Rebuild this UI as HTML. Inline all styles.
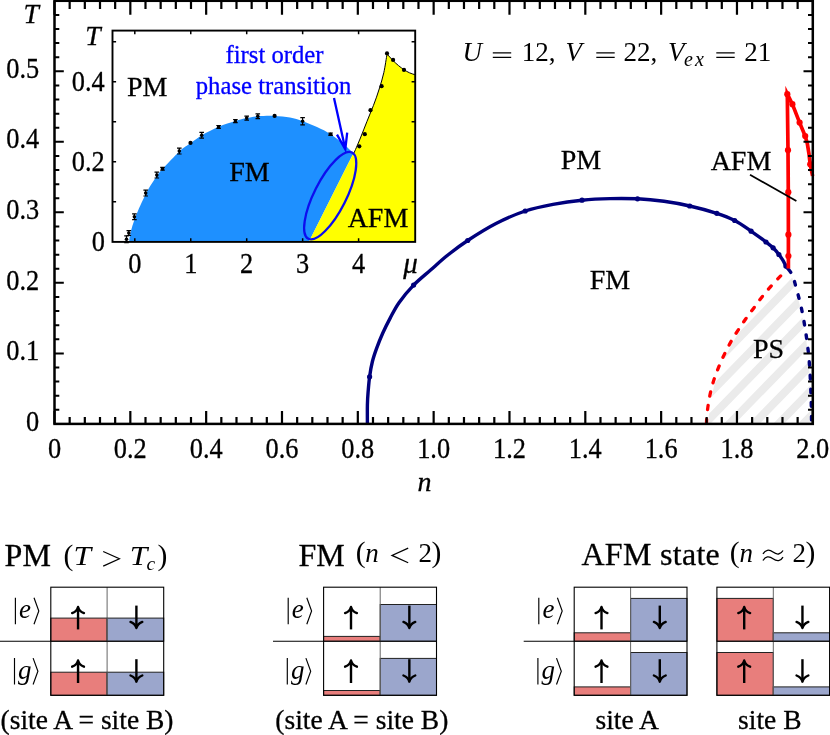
<!DOCTYPE html>
<html><head><meta charset="utf-8"><title>Phase diagram</title>
<style>
html,body{margin:0;padding:0;background:#fff;}
body{width:830px;height:735px;overflow:hidden;}
svg{display:block;will-change:transform;}
text{font-family:"Liberation Serif",serif;fill:#000;stroke:#000;stroke-width:0.3px;}
.it{font-style:italic;}
.m{stroke:none;}
</style></head><body>
<svg width="830" height="735" viewBox="0 0 830 735">
<rect x="0" y="0" width="830" height="735" fill="#fff"/>
<defs><clipPath id="psclip"><path d="M708.3,424.7 C708.3,423.6 708.3,421.2 708.6,417.8 C708.9,414.4 709.5,408.7 710.2,404.3 C710.9,399.9 711.8,395.5 712.8,391.2 C713.8,386.9 715.0,382.8 716.4,378.6 C717.8,374.4 719.6,370.1 721.3,366.0 C723.0,361.9 724.7,358.1 726.7,354.1 C728.7,350.1 730.9,345.7 733.1,341.8 C735.3,337.9 737.6,334.4 740.1,330.7 C742.5,326.9 745.3,322.9 747.8,319.3 C750.3,315.7 752.7,312.7 755.3,309.2 C757.9,305.7 760.4,302.0 763.2,298.5 C765.9,295.0 768.8,291.5 771.8,288.1 C774.8,284.7 778.2,280.9 781.0,278.1 C783.8,275.3 787.1,272.4 788.3,271.3 L787.1,269.9 C787.7,270.8 789.7,272.5 790.9,275.0 C792.1,277.5 792.8,278.8 794.5,284.9 C796.2,291.0 799.4,302.6 801.3,311.5 C803.2,320.4 804.6,329.4 805.9,338.3 C807.2,347.2 808.1,355.3 808.9,365.0 C809.7,374.7 810.1,386.5 810.5,396.5 C810.9,406.5 811.0,420.2 811.1,425.0 L811.6,423.9 Z"/></clipPath></defs>
<path d="M566.0,440 L750.8,250 M590.6,440 L775.4,250 M615.2,440 L800.0,250 M639.8,440 L824.6,250 M664.4,440 L849.2,250 M689.0,440 L873.8,250 M713.6,440 L898.4,250 M738.2,440 L923.0,250 M762.8,440 L947.6,250 M787.4,440 L972.2,250 M812.0,440 L996.8,250" stroke="#ebebeb" stroke-width="7.9" fill="none" clip-path="url(#psclip)"/>
<path d="M367.4,423.9 C367.4,420.8 367.3,410.3 367.4,405.0 C367.5,399.7 367.7,396.7 368.1,392.0 C368.5,387.3 368.9,381.9 369.6,376.8 C370.3,371.7 371.2,366.2 372.4,361.5 C373.6,356.8 374.9,353.1 376.6,348.4 C378.3,343.7 380.4,338.3 382.7,333.2 C385.0,328.1 387.6,323.0 390.3,317.9 C393.0,312.8 395.1,308.2 399.0,302.7 C402.9,297.2 408.3,290.6 413.6,285.1 C418.9,279.7 424.8,275.1 430.6,270.0 C436.4,264.9 442.3,259.4 448.5,254.5 C454.7,249.6 459.8,245.7 467.7,240.5 C475.6,235.3 486.4,228.4 496.0,223.5 C505.6,218.6 515.7,214.2 525.2,211.0 C534.7,207.8 543.5,206.1 553.0,204.3 C562.5,202.5 572.5,201.1 582.0,200.2 C591.5,199.2 600.8,198.8 610.0,198.6 C619.2,198.4 628.5,198.4 637.5,198.8 C646.5,199.2 655.3,200.1 664.0,201.3 C672.7,202.5 680.9,204.0 689.7,206.0 C698.5,208.0 709.3,210.9 716.8,213.3 C724.3,215.7 729.0,217.5 734.7,220.5 C740.5,223.5 746.1,227.7 751.3,231.3 C756.5,234.9 762.4,239.2 766.0,242.0 C769.6,244.8 771.0,245.7 773.1,247.8 C775.2,249.9 777.3,252.4 778.9,254.5 C780.5,256.6 781.6,258.3 782.8,260.2 C784.0,262.1 785.1,264.7 785.9,266.1 C786.7,267.5 787.5,268.4 787.8,268.8" fill="none" stroke="#00007d" stroke-width="3.4" stroke-linejoin="round"/>
<circle cx="369.6" cy="376.8" r="2.6" fill="#00007d"/>
<circle cx="413.6" cy="285.1" r="2.6" fill="#00007d"/>
<circle cx="467.7" cy="240.5" r="2.6" fill="#00007d"/>
<circle cx="525.2" cy="211.0" r="2.6" fill="#00007d"/>
<circle cx="582" cy="200.2" r="2.6" fill="#00007d"/>
<circle cx="637.5" cy="198.8" r="2.6" fill="#00007d"/>
<circle cx="689.7" cy="206.0" r="2.6" fill="#00007d"/>
<circle cx="716.8" cy="213.3" r="2.6" fill="#00007d"/>
<circle cx="734.7" cy="220.5" r="2.6" fill="#00007d"/>
<circle cx="751.1" cy="231.2" r="2.6" fill="#00007d"/>
<circle cx="766" cy="242" r="2.6" fill="#00007d"/>
<circle cx="773.1" cy="247.8" r="2.6" fill="#00007d"/>
<circle cx="778.9" cy="254.5" r="2.6" fill="#00007d"/>
<circle cx="785.9" cy="266.1" r="2.6" fill="#00007d"/>
<path d="M786.5,270.5 C785.3,271.6 782.0,274.5 779.2,277.3 C776.5,280.1 773.0,283.9 770.0,287.3 C767.0,290.7 764.1,294.2 761.4,297.7 C758.6,301.2 756.1,304.9 753.5,308.4 C750.9,311.9 748.5,314.9 746.0,318.5 C743.5,322.1 740.8,326.1 738.3,329.9 C735.8,333.6 733.5,337.1 731.3,341.0 C729.1,344.9 726.9,349.3 724.9,353.3 C722.9,357.3 721.2,361.1 719.5,365.2 C717.8,369.3 716.0,373.6 714.6,377.8 C713.2,382.0 712.0,386.1 711.0,390.4 C710.0,394.7 709.1,399.1 708.4,403.5 C707.7,407.9 707.1,413.6 706.8,417.0 C706.5,420.4 706.5,422.8 706.5,423.9" fill="none" stroke="#ff0000" stroke-width="3.3" stroke-dasharray="4.2,9.5" stroke-dashoffset="-8" stroke-linecap="round"/>
<path d="M787.6,268.4 C788.2,269.2 790.2,271.0 791.4,273.5 C792.6,276.0 793.3,277.3 795.0,283.4 C796.7,289.5 799.9,301.1 801.8,310.0 C803.7,318.9 805.1,327.9 806.4,336.8 C807.7,345.7 808.6,353.8 809.4,363.5 C810.2,373.2 810.6,385.0 811.0,395.0 C811.4,405.0 811.5,418.8 811.6,423.5" fill="none" stroke="#00007d" stroke-width="3.4" stroke-dasharray="3.6,10" stroke-dashoffset="-1.6" stroke-linecap="round"/>
<path d="M788.4,268.5 L788.4,234.7 L788.3,192.2 L788.0,150.2 L787.3,93.9 L792.4,104.2 L799.6,122.6 L805.2,136 L807.3,143.5 L809.0,154 L810.2,164.3 L811.9,172.6 L812.6,176" fill="none" stroke="#ff0000" stroke-width="3.7" stroke-linejoin="miter" stroke-miterlimit="12"/>
<circle cx="788.4" cy="234.7" r="3.1" fill="#ff0000"/>
<circle cx="788.4" cy="256" r="3.1" fill="#ff0000"/>
<circle cx="788.3" cy="192.2" r="3.1" fill="#ff0000"/>
<circle cx="788.0" cy="150.2" r="3.1" fill="#ff0000"/>
<circle cx="787.3" cy="94.2" r="3.1" fill="#ff0000"/>
<circle cx="792.4" cy="104.2" r="3.1" fill="#ff0000"/>
<circle cx="799.6" cy="122.6" r="3.1" fill="#ff0000"/>
<circle cx="805.2" cy="136" r="3.1" fill="#ff0000"/>
<circle cx="810.2" cy="164.3" r="3.1" fill="#ff0000"/>
<rect x="54.5" y="0.8" width="758.3" height="423.09999999999997" fill="none" stroke="#000" stroke-width="2.5"/>
<path d="M54.50,423.9 v-12.8 M54.50,0.8 v13.9 M69.67,423.9 v-7.0 M69.67,0.8 v8.1 M84.83,423.9 v-7.0 M84.83,0.8 v8.1 M100.00,423.9 v-7.0 M100.00,0.8 v8.1 M115.16,423.9 v-7.0 M115.16,0.8 v8.1 M130.33,423.9 v-12.8 M130.33,0.8 v13.9 M145.50,423.9 v-7.0 M145.50,0.8 v8.1 M160.66,423.9 v-7.0 M160.66,0.8 v8.1 M175.83,423.9 v-7.0 M175.83,0.8 v8.1 M190.99,423.9 v-7.0 M190.99,0.8 v8.1 M206.16,423.9 v-12.8 M206.16,0.8 v13.9 M221.33,423.9 v-7.0 M221.33,0.8 v8.1 M236.49,423.9 v-7.0 M236.49,0.8 v8.1 M251.66,423.9 v-7.0 M251.66,0.8 v8.1 M266.82,423.9 v-7.0 M266.82,0.8 v8.1 M281.99,423.9 v-12.8 M281.99,0.8 v13.9 M297.16,423.9 v-7.0 M297.16,0.8 v8.1 M312.32,423.9 v-7.0 M312.32,0.8 v8.1 M327.49,423.9 v-7.0 M327.49,0.8 v8.1 M342.65,423.9 v-7.0 M342.65,0.8 v8.1 M357.82,423.9 v-12.8 M357.82,0.8 v13.9 M372.99,423.9 v-7.0 M372.99,0.8 v8.1 M388.15,423.9 v-7.0 M388.15,0.8 v8.1 M403.32,423.9 v-7.0 M403.32,0.8 v8.1 M418.48,423.9 v-7.0 M418.48,0.8 v8.1 M433.65,423.9 v-12.8 M433.65,0.8 v13.9 M448.82,423.9 v-7.0 M448.82,0.8 v8.1 M463.98,423.9 v-7.0 M463.98,0.8 v8.1 M479.15,423.9 v-7.0 M479.15,0.8 v8.1 M494.31,423.9 v-7.0 M494.31,0.8 v8.1 M509.48,423.9 v-12.8 M509.48,0.8 v13.9 M524.65,423.9 v-7.0 M524.65,0.8 v8.1 M539.81,423.9 v-7.0 M539.81,0.8 v8.1 M554.98,423.9 v-7.0 M554.98,0.8 v8.1 M570.14,423.9 v-7.0 M570.14,0.8 v8.1 M585.31,423.9 v-12.8 M585.31,0.8 v13.9 M600.48,423.9 v-7.0 M600.48,0.8 v8.1 M615.64,423.9 v-7.0 M615.64,0.8 v8.1 M630.81,423.9 v-7.0 M630.81,0.8 v8.1 M645.97,423.9 v-7.0 M645.97,0.8 v8.1 M661.14,423.9 v-12.8 M661.14,0.8 v13.9 M676.31,423.9 v-7.0 M676.31,0.8 v8.1 M691.47,423.9 v-7.0 M691.47,0.8 v8.1 M706.64,423.9 v-7.0 M706.64,0.8 v8.1 M721.80,423.9 v-7.0 M721.80,0.8 v8.1 M736.97,423.9 v-12.8 M736.97,0.8 v13.9 M752.14,423.9 v-7.0 M752.14,0.8 v8.1 M767.30,423.9 v-7.0 M767.30,0.8 v8.1 M782.47,423.9 v-7.0 M782.47,0.8 v8.1 M797.63,423.9 v-7.0 M797.63,0.8 v8.1 M812.80,423.9 v-12.8 M812.80,0.8 v13.9" stroke="#000" stroke-width="2.2" fill="none"/>
<path d="M54.5,423.90 h9.3 M812.8,423.90 h-9.3 M54.5,409.80 h4.8 M812.8,409.80 h-4.8 M54.5,395.69 h4.8 M812.8,395.69 h-4.8 M54.5,381.59 h4.8 M812.8,381.59 h-4.8 M54.5,367.49 h4.8 M812.8,367.49 h-4.8 M54.5,353.38 h9.3 M812.8,353.38 h-9.3 M54.5,339.28 h4.8 M812.8,339.28 h-4.8 M54.5,325.18 h4.8 M812.8,325.18 h-4.8 M54.5,311.07 h4.8 M812.8,311.07 h-4.8 M54.5,296.97 h4.8 M812.8,296.97 h-4.8 M54.5,282.87 h9.3 M812.8,282.87 h-9.3 M54.5,268.76 h4.8 M812.8,268.76 h-4.8 M54.5,254.66 h4.8 M812.8,254.66 h-4.8 M54.5,240.56 h4.8 M812.8,240.56 h-4.8 M54.5,226.45 h4.8 M812.8,226.45 h-4.8 M54.5,212.35 h9.3 M812.8,212.35 h-9.3 M54.5,198.25 h4.8 M812.8,198.25 h-4.8 M54.5,184.14 h4.8 M812.8,184.14 h-4.8 M54.5,170.04 h4.8 M812.8,170.04 h-4.8 M54.5,155.94 h4.8 M812.8,155.94 h-4.8 M54.5,141.83 h9.3 M812.8,141.83 h-9.3 M54.5,127.73 h4.8 M812.8,127.73 h-4.8 M54.5,113.63 h4.8 M812.8,113.63 h-4.8 M54.5,99.52 h4.8 M812.8,99.52 h-4.8 M54.5,85.42 h4.8 M812.8,85.42 h-4.8 M54.5,71.32 h9.3 M812.8,71.32 h-9.3 M54.5,57.21 h4.8 M812.8,57.21 h-4.8 M54.5,43.11 h4.8 M812.8,43.11 h-4.8 M54.5,29.01 h4.8 M812.8,29.01 h-4.8 M54.5,14.90 h4.8 M812.8,14.90 h-4.8 M54.5,0.80 h9.3 M812.8,0.80 h-9.3" stroke="#000" stroke-width="2" fill="none"/>
<text transform="translate(54.5,457.6) scale(0.915,1)" font-size="28.8" text-anchor="middle">0</text>
<text transform="translate(130.3,457.6) scale(0.915,1)" font-size="28.8" text-anchor="middle">0.2</text>
<text transform="translate(206.2,457.6) scale(0.915,1)" font-size="28.8" text-anchor="middle">0.4</text>
<text transform="translate(282.0,457.6) scale(0.915,1)" font-size="28.8" text-anchor="middle">0.6</text>
<text transform="translate(357.8,457.6) scale(0.915,1)" font-size="28.8" text-anchor="middle">0.8</text>
<text transform="translate(433.6,457.6) scale(0.915,1)" font-size="28.8" text-anchor="middle">1.0</text>
<text transform="translate(509.5,457.6) scale(0.915,1)" font-size="28.8" text-anchor="middle">1.2</text>
<text transform="translate(585.3,457.6) scale(0.915,1)" font-size="28.8" text-anchor="middle">1.4</text>
<text transform="translate(661.1,457.6) scale(0.915,1)" font-size="28.8" text-anchor="middle">1.6</text>
<text transform="translate(737.0,457.6) scale(0.915,1)" font-size="28.8" text-anchor="middle">1.8</text>
<text transform="translate(812.8,457.6) scale(0.915,1)" font-size="28.8" text-anchor="middle">2.0</text>
<text transform="translate(39.2,430.5) scale(0.915,1)" font-size="28.8" text-anchor="end">0</text>
<text transform="translate(39.2,360.0) scale(0.915,1)" font-size="28.8" text-anchor="end">0.1</text>
<text transform="translate(39.2,289.5) scale(0.915,1)" font-size="28.8" text-anchor="end">0.2</text>
<text transform="translate(39.2,218.9) scale(0.915,1)" font-size="28.8" text-anchor="end">0.3</text>
<text transform="translate(39.2,148.4) scale(0.915,1)" font-size="28.8" text-anchor="end">0.4</text>
<text transform="translate(39.2,77.9) scale(0.915,1)" font-size="28.8" text-anchor="end">0.5</text>
<text x="23.6" y="22.6" font-size="27.6" class="it">T</text>
<text x="424.5" y="491" font-size="28.0" class="it" text-anchor="middle">n</text>
<text x="581" y="168.5" font-size="28.0" text-anchor="middle">PM</text>
<text x="610" y="289.2" font-size="28.0" text-anchor="middle">FM</text>
<text x="768.5" y="358" font-size="28.0" text-anchor="middle">PS</text>
<text x="741" y="170" font-size="28.0" text-anchor="middle">AFM</text>
<path d="M750,174.8 L796.4,200.9" stroke="#000" stroke-width="1.7" fill="none"/>
<text y="61.2" font-size="27" class="m"><tspan x="462.5" class="it">U</tspan><tspan x="521.8">12,</tspan><tspan x="565.5" class="it">V</tspan><tspan x="623.6">22,</tspan><tspan x="668" class="it">V</tspan><tspan x="684" dy="5.2" font-size="20" class="it" letter-spacing="2">ex</tspan><tspan x="744.3" dy="-5.2">21</tspan></text>
<path d="M492.8,52.75 H511.2 M492.8,57.45 H511.2" stroke="#000" stroke-width="1.25" fill="none"/>
<path d="M596.3,52.75 H614.7 M596.3,57.45 H614.7" stroke="#000" stroke-width="1.25" fill="none"/>
<path d="M716.3,52.75 H734.7 M716.3,57.45 H734.7" stroke="#000" stroke-width="1.25" fill="none"/>
<rect x="112.5" y="30.6" width="302.7" height="211.3" fill="#fff"/>
<path d="M129.2,241.9 C129.4,240.4 129.4,237.0 130.5,232.8 C131.6,228.6 132.9,223.5 135.5,216.9 C138.1,210.3 142.6,200.1 146.2,193.2 C149.8,186.3 154.5,179.4 157.3,175.3 C160.1,171.2 159.3,172.4 163.0,168.4 C166.7,164.4 174.9,155.6 179.5,151.4 C184.1,147.2 187.1,145.8 190.8,143.1 C194.5,140.4 197.3,138.0 201.9,135.3 C206.5,132.6 213.0,129.2 218.6,126.8 C224.2,124.4 230.7,122.5 235.4,121.1 C240.1,119.6 243.0,118.9 246.7,118.1 C250.4,117.3 253.2,116.7 257.8,116.3 C262.5,115.9 269.2,115.7 274.6,115.9 C280.0,116.1 285.3,116.7 290.0,117.6 C294.7,118.5 298.1,119.6 302.6,121.2 C307.1,122.8 312.3,124.8 317.0,127.0 C321.7,129.2 326.3,131.4 330.6,134.2 C334.9,136.9 339.2,140.3 343.0,143.5 C346.8,146.7 351.7,151.7 353.4,153.3 L308.8,241.9 Z" fill="#1e90ff"/>
<path d="M353.4,153.3 C353.6,153.1 353.2,154.6 354.4,152.0 C355.6,149.4 358.3,143.1 360.4,138.0 C362.5,132.9 364.7,127.0 366.9,121.6 C369.1,116.1 371.4,110.7 373.5,105.3 C375.6,99.9 377.5,94.4 379.2,89.0 C380.9,83.6 382.5,78.5 383.8,72.7 C385.1,66.9 386.5,57.0 387.0,53.9 C388.0,55.0 391.2,58.7 393.1,60.6 C395.0,62.5 396.7,64.1 398.5,65.6 C400.3,67.1 402.2,68.5 404.0,69.7 C405.8,70.9 407.6,72.0 409.5,72.8 C411.4,73.6 414.2,74.5 415.2,74.8 L415.2,241.9 L308.8,241.9 Z" fill="#ffff00"/>
<path d="M353.4,153.3 C353.6,153.1 353.2,154.6 354.4,152.0 C355.6,149.4 358.3,143.1 360.4,138.0 C362.5,132.9 364.7,127.0 366.9,121.6 C369.1,116.1 371.4,110.7 373.5,105.3 C375.6,99.9 377.5,94.4 379.2,89.0 C380.9,83.6 382.5,78.5 383.8,72.7 C385.1,66.9 386.5,57.0 387.0,53.9 C388.0,55.0 391.2,58.7 393.1,60.6 C395.0,62.5 396.7,64.1 398.5,65.6 C400.3,67.1 402.2,68.5 404.0,69.7 C405.8,70.9 407.6,72.0 409.5,72.8 C411.4,73.6 414.2,74.5 415.2,74.8" fill="none" stroke="#000" stroke-width="1"/>
<circle cx="359.3" cy="146.3" r="2.1" fill="#000"/>
<circle cx="364.8" cy="134.2" r="2.1" fill="#000"/>
<circle cx="370.5" cy="110.2" r="2.1" fill="#000"/>
<circle cx="381.6" cy="86.2" r="2.1" fill="#000"/>
<circle cx="387" cy="53.4" r="2.1" fill="#000"/>
<circle cx="393.1" cy="59.9" r="2.1" fill="#000"/>
<circle cx="404" cy="69.9" r="2.1" fill="#000"/>
<circle cx="126.5" cy="239.2" r="1.8" fill="#000"/>
<circle cx="128.8" cy="233.1" r="1.8" fill="#000"/>
<circle cx="134.4" cy="216.7" r="1.8" fill="#000"/>
<circle cx="145.7" cy="193.1" r="1.8" fill="#000"/>
<circle cx="156.8" cy="175.1" r="1.8" fill="#000"/>
<circle cx="162.5" cy="168.8" r="1.8" fill="#000"/>
<circle cx="179.3" cy="151.1" r="1.8" fill="#000"/>
<circle cx="190.5" cy="142.9" r="2.1" fill="#000"/>
<circle cx="201.7" cy="135.3" r="1.8" fill="#000"/>
<circle cx="218.6" cy="126.9" r="1.8" fill="#000"/>
<circle cx="235.4" cy="121.1" r="1.8" fill="#000"/>
<circle cx="246.7" cy="118.1" r="1.8" fill="#000"/>
<circle cx="257.8" cy="116.3" r="1.8" fill="#000"/>
<circle cx="274.6" cy="115.9" r="2.1" fill="#000"/>
<circle cx="302.6" cy="121.2" r="1.8" fill="#000"/>
<circle cx="330.6" cy="134.2" r="1.8" fill="#000"/>
<path d="M124.2,235.8 h4.6 M124.2,242.6 h4.6 M126.5,235.8 v6.8 M126.5,230.7 h4.6 M126.5,235.5 h4.6 M128.8,230.7 v4.8 M132.1,213.8 h4.6 M132.1,219.6 h4.6 M134.4,213.8 v5.8 M143.4,190.2 h4.6 M143.4,196.0 h4.6 M145.7,190.2 v5.8 M154.5,172.2 h4.6 M154.5,178.0 h4.6 M156.8,172.2 v5.8 M160.2,167.4 h4.6 M160.2,170.2 h4.6 M162.5,167.4 v2.8 M177.0,148.2 h4.6 M177.0,154.0 h4.6 M179.3,148.2 v5.8 M199.4,132.4 h4.6 M199.4,138.2 h4.6 M201.7,132.4 v5.8 M216.3,125.5 h4.6 M216.3,128.3 h4.6 M218.6,125.5 v2.8 M233.1,119.5 h4.6 M233.1,122.7 h4.6 M235.4,119.5 v3.2 M244.4,116.1 h4.6 M244.4,120.1 h4.6 M246.7,116.1 v4.0 M255.5,113.9 h4.6 M255.5,118.7 h4.6 M257.8,113.9 v4.8 M300.3,117.6 h4.6 M300.3,124.8 h4.6 M302.6,117.6 v7.2 M328.3,133.0 h4.6 M328.3,135.4 h4.6 M330.6,133.0 v2.4" stroke="#000" stroke-width="1.2" fill="none"/>
<ellipse cx="330.2" cy="195.7" rx="48.3" ry="16" transform="rotate(-63.2 330.2 195.7)" fill="none" stroke="#0d0dee" stroke-width="2.3"/>
<path d="M334,98 L345.3,149 M337,134.6 L345.3,149.4 L347.2,132.6" fill="none" stroke="#0000ff" stroke-width="2.3" stroke-linejoin="miter"/>
<rect x="112.5" y="30.6" width="302.7" height="211.3" fill="none" stroke="#000" stroke-width="1.9"/>
<path d="M134.80,241.9 v-3.6 M134.80,30.6 v3.6 M190.75,241.9 v-3.6 M190.75,30.6 v3.6 M246.70,241.9 v-3.6 M246.70,30.6 v3.6 M302.65,241.9 v-3.6 M302.65,30.6 v3.6 M358.60,241.9 v-3.6 M358.60,30.6 v3.6 M112.5,201.85 h3.6 M415.2,201.85 h-3.6 M112.5,161.80 h3.6 M415.2,161.80 h-3.6 M112.5,121.75 h3.6 M415.2,121.75 h-3.6 M112.5,81.70 h3.6 M415.2,81.70 h-3.6 M112.5,41.65 h3.6 M415.2,41.65 h-3.6" stroke="#000" stroke-width="1.5" fill="none"/>
<text transform="translate(134.8,272.8) scale(0.915,1)" font-size="28.8" text-anchor="middle">0</text>
<text transform="translate(190.8,272.8) scale(0.915,1)" font-size="28.8" text-anchor="middle">1</text>
<text transform="translate(246.7,272.8) scale(0.915,1)" font-size="28.8" text-anchor="middle">2</text>
<text transform="translate(302.7,272.8) scale(0.915,1)" font-size="28.8" text-anchor="middle">3</text>
<text transform="translate(358.6,272.8) scale(0.915,1)" font-size="28.8" text-anchor="middle">4</text>
<text x="410.5" y="272.5" font-size="29.0" class="it" text-anchor="middle">μ</text>
<text transform="translate(104.8,91.0) scale(0.915,1)" font-size="28.8" text-anchor="end">0.4</text>
<text transform="translate(104.8,171.2) scale(0.915,1)" font-size="28.8" text-anchor="end">0.2</text>
<text transform="translate(104.8,251.2) scale(0.915,1)" font-size="28.8" text-anchor="end">0</text>
<text x="85.2" y="45.2" font-size="27.6" class="it">T</text>
<text x="147.2" y="96" font-size="28.0" text-anchor="middle">PM</text>
<text x="249.5" y="181.2" font-size="28.0" text-anchor="middle">FM</text>
<text x="378" y="227.2" font-size="28.0" text-anchor="middle">AFM</text>
<text x="274.5" y="62.5" font-size="24.7" text-anchor="middle" style="fill:#0000ff;stroke:#0000ff">first order</text>
<text x="273.6" y="94" font-size="24.7" text-anchor="middle" style="fill:#0000ff;stroke:#0000ff">phase transition</text>
<rect x="50.8" y="587.2" width="112.89999999999999" height="108.09999999999991" fill="#fff"/>
<rect x="50.8" y="618.1" width="56.3" height="23.100000000000023" fill="#e87e7c" stroke="#222" stroke-width="1"/>
<rect x="107.1" y="618.1" width="56.599999999999994" height="23.100000000000023" fill="#9ba6cc" stroke="#222" stroke-width="1"/>
<rect x="50.8" y="672.2" width="56.3" height="23.09999999999991" fill="#e87e7c" stroke="#222" stroke-width="1"/>
<rect x="107.1" y="672.2" width="56.599999999999994" height="23.09999999999991" fill="#9ba6cc" stroke="#222" stroke-width="1"/>
<path d="M107.1,587.2 V695.3" stroke="#666" stroke-width="1" fill="none"/>
<rect x="50.8" y="587.2" width="112.89999999999999" height="108.09999999999991" fill="none" stroke="#000" stroke-width="1.1"/>
<path d="M50.8,641.2 H163.7" stroke="#000" stroke-width="1.1" fill="none"/>
<path d="M0,641.2 H50.8" stroke="#000" stroke-width="1.1"/>
<rect x="323.6" y="587.2" width="112.89999999999998" height="108.09999999999991" fill="#fff"/>
<rect x="323.6" y="636.4" width="56.599999999999966" height="4.800000000000068" fill="#e87e7c" stroke="#222" stroke-width="1"/>
<rect x="380.2" y="604.5" width="56.30000000000001" height="36.700000000000045" fill="#9ba6cc" stroke="#222" stroke-width="1"/>
<rect x="323.6" y="690.5" width="56.599999999999966" height="4.7999999999999545" fill="#e87e7c" stroke="#222" stroke-width="1"/>
<rect x="380.2" y="658.4" width="56.30000000000001" height="36.89999999999998" fill="#9ba6cc" stroke="#222" stroke-width="1"/>
<path d="M380.2,587.2 V695.3" stroke="#666" stroke-width="1" fill="none"/>
<rect x="323.6" y="587.2" width="112.89999999999998" height="108.09999999999991" fill="none" stroke="#000" stroke-width="1.1"/>
<path d="M323.6,641.2 H436.5" stroke="#000" stroke-width="1.1" fill="none"/>
<path d="M273,641.2 H323.6" stroke="#000" stroke-width="1.1"/>
<rect x="574.2" y="587.2" width="112.79999999999995" height="108.09999999999991" fill="#fff"/>
<rect x="574.2" y="632.8" width="56.39999999999998" height="8.400000000000091" fill="#e87e7c" stroke="#222" stroke-width="1"/>
<rect x="630.6" y="598.4" width="56.39999999999998" height="42.80000000000007" fill="#9ba6cc" stroke="#222" stroke-width="1"/>
<rect x="574.2" y="686.9" width="56.39999999999998" height="8.399999999999977" fill="#e87e7c" stroke="#222" stroke-width="1"/>
<rect x="630.6" y="652.5" width="56.39999999999998" height="42.799999999999955" fill="#9ba6cc" stroke="#222" stroke-width="1"/>
<path d="M630.6,587.2 V695.3" stroke="#666" stroke-width="1" fill="none"/>
<rect x="574.2" y="587.2" width="112.79999999999995" height="108.09999999999991" fill="none" stroke="#000" stroke-width="1.1"/>
<path d="M574.2,641.2 H687" stroke="#000" stroke-width="1.1" fill="none"/>
<path d="M523.7,641.2 H574.2" stroke="#000" stroke-width="1.1"/>
<rect x="716.9" y="587.2" width="112.70000000000005" height="108.09999999999991" fill="#fff"/>
<rect x="716.9" y="598.4" width="56.39999999999998" height="42.80000000000007" fill="#e87e7c" stroke="#222" stroke-width="1"/>
<rect x="773.3" y="632.8" width="56.30000000000007" height="8.400000000000091" fill="#9ba6cc" stroke="#222" stroke-width="1"/>
<rect x="716.9" y="652.5" width="56.39999999999998" height="42.799999999999955" fill="#e87e7c" stroke="#222" stroke-width="1"/>
<rect x="773.3" y="686.9" width="56.30000000000007" height="8.399999999999977" fill="#9ba6cc" stroke="#222" stroke-width="1"/>
<path d="M773.3,587.2 V695.3" stroke="#666" stroke-width="1" fill="none"/>
<rect x="716.9" y="587.2" width="112.70000000000005" height="108.09999999999991" fill="none" stroke="#000" stroke-width="1.1"/>
<path d="M716.9,641.2 H829.6" stroke="#000" stroke-width="1.1" fill="none"/>
<path d="M78.04999999999998,629.4 V607.6 " fill="none" stroke="#000" stroke-width="2.4"/><path d="M72.14999999999998,613.1 Q77.04999999999998,611.2 78.04999999999998,606.9 Q79.04999999999998,611.2 83.94999999999999,613.1" fill="none" stroke="#000" stroke-width="2.4" stroke-linecap="round" stroke-linejoin="round"/>
<path d="M136.39999999999998,605.6 V627.4 " fill="none" stroke="#000" stroke-width="2.4"/><path d="M130.49999999999997,621.9 Q135.39999999999998,623.8 136.39999999999998,628.1 Q137.39999999999998,623.8 142.29999999999998,621.9" fill="none" stroke="#000" stroke-width="2.4" stroke-linecap="round" stroke-linejoin="round"/>
<path d="M78.04999999999998,683.0 V661.2 " fill="none" stroke="#000" stroke-width="2.4"/><path d="M72.14999999999998,666.7 Q77.04999999999998,664.8000000000001 78.04999999999998,660.5 Q79.04999999999998,664.8000000000001 83.94999999999999,666.7" fill="none" stroke="#000" stroke-width="2.4" stroke-linecap="round" stroke-linejoin="round"/>
<path d="M136.39999999999998,659.2 V681.0 " fill="none" stroke="#000" stroke-width="2.4"/><path d="M130.49999999999997,675.5 Q135.39999999999998,677.4 136.39999999999998,681.7 Q137.39999999999998,677.4 142.29999999999998,675.5" fill="none" stroke="#000" stroke-width="2.4" stroke-linecap="round" stroke-linejoin="round"/>
<path d="M351.0,629.4 V607.6 " fill="none" stroke="#000" stroke-width="2.4"/><path d="M345.1,613.1 Q350.0,611.2 351.0,606.9 Q352.0,611.2 356.9,613.1" fill="none" stroke="#000" stroke-width="2.4" stroke-linecap="round" stroke-linejoin="round"/>
<path d="M409.35,605.6 V627.4 " fill="none" stroke="#000" stroke-width="2.4"/><path d="M403.45000000000005,621.9 Q408.35,623.8 409.35,628.1 Q410.35,623.8 415.25,621.9" fill="none" stroke="#000" stroke-width="2.4" stroke-linecap="round" stroke-linejoin="round"/>
<path d="M351.0,683.0 V661.2 " fill="none" stroke="#000" stroke-width="2.4"/><path d="M345.1,666.7 Q350.0,664.8000000000001 351.0,660.5 Q352.0,664.8000000000001 356.9,666.7" fill="none" stroke="#000" stroke-width="2.4" stroke-linecap="round" stroke-linejoin="round"/>
<path d="M409.35,659.2 V681.0 " fill="none" stroke="#000" stroke-width="2.4"/><path d="M403.45000000000005,675.5 Q408.35,677.4 409.35,681.7 Q410.35,677.4 415.25,675.5" fill="none" stroke="#000" stroke-width="2.4" stroke-linecap="round" stroke-linejoin="round"/>
<path d="M601.5000000000001,629.4 V607.6 " fill="none" stroke="#000" stroke-width="2.4"/><path d="M595.6000000000001,613.1 Q600.5000000000001,611.2 601.5000000000001,606.9 Q602.5000000000001,611.2 607.4000000000001,613.1" fill="none" stroke="#000" stroke-width="2.4" stroke-linecap="round" stroke-linejoin="round"/>
<path d="M659.8,605.6 V627.4 " fill="none" stroke="#000" stroke-width="2.4"/><path d="M653.9,621.9 Q658.8,623.8 659.8,628.1 Q660.8,623.8 665.6999999999999,621.9" fill="none" stroke="#000" stroke-width="2.4" stroke-linecap="round" stroke-linejoin="round"/>
<path d="M601.5000000000001,683.0 V661.2 " fill="none" stroke="#000" stroke-width="2.4"/><path d="M595.6000000000001,666.7 Q600.5000000000001,664.8000000000001 601.5000000000001,660.5 Q602.5000000000001,664.8000000000001 607.4000000000001,666.7" fill="none" stroke="#000" stroke-width="2.4" stroke-linecap="round" stroke-linejoin="round"/>
<path d="M659.8,659.2 V681.0 " fill="none" stroke="#000" stroke-width="2.4"/><path d="M653.9,675.5 Q658.8,677.4 659.8,681.7 Q660.8,677.4 665.6999999999999,675.5" fill="none" stroke="#000" stroke-width="2.4" stroke-linecap="round" stroke-linejoin="round"/>
<path d="M744.1999999999999,629.4 V607.6 " fill="none" stroke="#000" stroke-width="2.4"/><path d="M738.3,613.1 Q743.1999999999999,611.2 744.1999999999999,606.9 Q745.1999999999999,611.2 750.0999999999999,613.1" fill="none" stroke="#000" stroke-width="2.4" stroke-linecap="round" stroke-linejoin="round"/>
<path d="M802.45,605.6 V627.4 " fill="none" stroke="#000" stroke-width="2.4"/><path d="M796.5500000000001,621.9 Q801.45,623.8 802.45,628.1 Q803.45,623.8 808.35,621.9" fill="none" stroke="#000" stroke-width="2.4" stroke-linecap="round" stroke-linejoin="round"/>
<path d="M744.1999999999999,683.0 V661.2 " fill="none" stroke="#000" stroke-width="2.4"/><path d="M738.3,666.7 Q743.1999999999999,664.8000000000001 744.1999999999999,660.5 Q745.1999999999999,664.8000000000001 750.0999999999999,666.7" fill="none" stroke="#000" stroke-width="2.4" stroke-linecap="round" stroke-linejoin="round"/>
<path d="M802.45,659.2 V681.0 " fill="none" stroke="#000" stroke-width="2.4"/><path d="M796.5500000000001,675.5 Q801.45,677.4 802.45,681.7 Q803.45,677.4 808.35,675.5" fill="none" stroke="#000" stroke-width="2.4" stroke-linecap="round" stroke-linejoin="round"/>
<path d="M15.4,597.8 V624.2 M34.0,597.8 L38.8,611.0 L34.0,624.2" stroke="#000" stroke-width="1.15" fill="none" stroke-linejoin="miter"/><text x="19.0" y="618.3" font-size="27" class="it m">e</text>
<path d="M14.5,658.0999999999999 V684.5 M33.1,658.0999999999999 L37.9,671.3 L33.1,684.5" stroke="#000" stroke-width="1.15" fill="none" stroke-linejoin="miter"/><text x="18.1" y="678.5999999999999" font-size="27" class="it m">g</text>
<path d="M288.2,597.8 V624.2 M306.8,597.8 L311.6,611.0 L306.8,624.2" stroke="#000" stroke-width="1.15" fill="none" stroke-linejoin="miter"/><text x="291.8" y="618.3" font-size="27" class="it m">e</text>
<path d="M287.3,658.0999999999999 V684.5 M305.9,658.0999999999999 L310.7,671.3 L305.9,684.5" stroke="#000" stroke-width="1.15" fill="none" stroke-linejoin="miter"/><text x="290.9" y="678.5999999999999" font-size="27" class="it m">g</text>
<path d="M538.8,597.8 V624.2 M557.4,597.8 L562.2,611.0 L557.4,624.2" stroke="#000" stroke-width="1.15" fill="none" stroke-linejoin="miter"/><text x="542.4" y="618.3" font-size="27" class="it m">e</text>
<path d="M537.9,658.0999999999999 V684.5 M556.5,658.0999999999999 L561.3,671.3 L556.5,684.5" stroke="#000" stroke-width="1.15" fill="none" stroke-linejoin="miter"/><text x="541.5" y="678.5999999999999" font-size="27" class="it m">g</text>
<text x="4.6" y="565.6" font-size="32">PM</text>
<text y="565.4" font-size="27" class="m"><tspan x="63.6" font-size="29.6">(</tspan><tspan x="146.4" class="it" font-size="19.5" dy="4.6">c</tspan><tspan x="157.4" dy="-4.6" font-size="29.6">)</tspan></text>
<text transform="translate(73.4,565.4) scale(1.17,1)" font-size="27" class="m it">T</text>
<text transform="translate(129.8,565.4) scale(1.17,1)" font-size="27" class="m it">T</text>
<path d="M103.2,551.5 L119.4,558.8 L103.2,566.0999999999999" stroke="#000" stroke-width="1.25" fill="none" stroke-linejoin="miter"/>
<text x="298.4" y="565.6" font-size="32">FM</text>
<text y="562.2" font-size="27" class="m"><tspan x="355.8" font-size="29.6">(</tspan><tspan x="365.2" class="it">n</tspan><tspan x="418.6">2</tspan><tspan x="431.4" font-size="29.6">)</tspan></text>
<path d="M408.2,548.1 L392,555.4 L408.2,562.6999999999999" stroke="#000" stroke-width="1.25" fill="none" stroke-linejoin="miter"/>
<text x="581.4" y="565.2" font-size="32" textLength="138.4" lengthAdjust="spacing">AFM state</text>
<text y="562.4" font-size="27" class="m"><tspan x="729.8" font-size="29.6">(</tspan><tspan x="739.4" class="it">n</tspan><tspan x="792.4">2</tspan><tspan x="805.4" font-size="29.6">)</tspan></text>
<path d="M763,553.9000000000001 C765.4,549.7 769.0,549.1 773.0,552.1 C777.0,555.1 780.6,554.7 783,550.5000000000001 M763,560.5 C765.4,556.3 769.0,555.6999999999999 773.0,558.6999999999999 C777.0,561.6999999999999 780.6,561.3 783,557.1" stroke="#000" stroke-width="1.3" fill="none"/>
<text x="87" y="729" font-size="27.5" text-anchor="middle" textLength="173" lengthAdjust="spacing">(site A = site B)</text>
<text x="361.8" y="729" font-size="27.5" text-anchor="middle" textLength="173" lengthAdjust="spacing">(site A = site B)</text>
<text x="627.2" y="729" font-size="27.5" text-anchor="middle">site A</text>
<text x="769.8" y="729" font-size="27.5" text-anchor="middle">site B</text>
</svg></body></html>
